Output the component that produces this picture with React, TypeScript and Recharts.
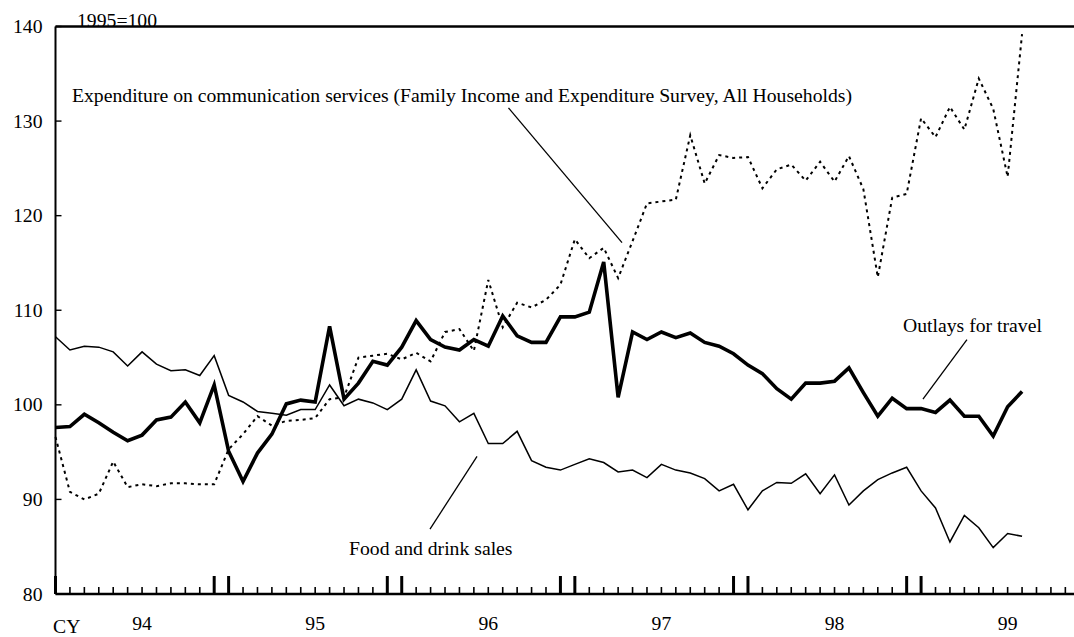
import React from 'react'
import { LineChart, Line, XAxis, YAxis, ReferenceLine } from 'recharts'

// monthly, index 0 = first month of CY94, 1995=100
const travel = [
  97.6, 97.7, 99.0, 98.1, 97.1, 96.2, 96.8, 98.4, 98.7, 100.3,
  98.1, 102.1, 95.1, 91.9, 94.9, 96.9, 100.1, 100.5, 100.3, 108.3,
  100.6, 102.3, 104.6, 104.2, 106.1, 108.9, 106.9, 106.1, 105.8, 106.9,
  106.2, 109.4, 107.3, 106.6, 106.6, 109.3, 109.3, 109.8, 115.1, 100.8,
  107.7, 106.9, 107.7, 107.1, 107.6, 106.6, 106.2, 105.4, 104.2, 103.3,
  101.7, 100.6, 102.3, 102.3, 102.5, 103.9, 101.3, 98.8, 100.7, 99.6,
  99.6, 99.2, 100.5, 98.8, 98.8, 96.7, 99.8, 101.4
]

const food = [
  107.2, 105.8, 106.2, 106.1, 105.6, 104.1, 105.6, 104.3, 103.6, 103.7,
  103.1, 105.2, 101.0, 100.3, 99.3, 99.1, 98.9, 99.5, 99.5, 102.1,
  99.9, 100.6, 100.2, 99.5, 100.6, 103.7, 100.4, 99.9, 98.2, 99.1,
  95.9, 95.9, 97.2, 94.1, 93.4, 93.1, 93.7, 94.3, 93.9, 92.9,
  93.1, 92.3, 93.7, 93.1, 92.8, 92.2, 90.9, 91.6, 88.9, 90.9,
  91.8, 91.7, 92.7, 90.6, 92.6, 89.4, 90.9, 92.1, 92.8, 93.4,
  90.9, 89.1, 85.5, 88.3, 87.0, 84.9, 86.4, 86.1
]

const comm = [
  96.6, 90.8, 90.0, 90.6, 94.0, 91.3, 91.6, 91.4, 91.7, 91.7,
  91.6, 91.6, 95.3, 96.9, 98.8, 97.8, 98.3, 98.4, 98.6, 100.6,
  100.8, 105.0, 105.2, 105.4, 104.8, 105.5, 104.6, 107.7, 108.0, 105.7,
  113.2, 108.2, 110.8, 110.3, 111.1, 112.7, 117.5, 115.5, 116.6, 113.4,
  117.3, 121.3, 121.5, 121.7, 128.5, 123.4, 126.4, 126.1, 126.2, 122.9,
  124.9, 125.4, 123.7, 125.7, 123.6, 126.3, 122.8, 113.5, 121.9, 122.3,
  130.3, 128.3, 131.5, 129.1, 134.5, 131.3, 124.1, 139.2
]

const yearLabels = ['94', '95', '96', '97', '98', '99']
const yTicks = [80, 90, 100, 110, 120, 130, 140]
const thickTicks = [0, 11, 12, 23, 24, 35, 36, 47, 48, 59, 60]
const monthTicks = Array.from({ length: 71 }, (_, i) => i)

const data = travel.map((v, i) => ({ i, travel: v, food: food[i], comm: comm[i] }))

const FONT = '"Liberation Serif", "Times New Roman", serif'
const FS = 19.7

function XTick(props: any) {
  const { x, y, payload } = props
  const i = payload.value
  const thick = thickTicks.includes(i)
  const lab = i % 12 === 6 ? yearLabels[(i - 6) / 12] : null
  return (
    <g>
      <line x1={x} x2={x} y1={y} y2={y - (thick ? 18 : 7)} stroke="#000" strokeWidth={thick ? 3 : 1.6} />
      {lab && (
        <text x={x} y={y + 36} textAnchor="middle" fontFamily={FONT} fontSize={FS} fill="#000">{lab}</text>
      )}
      {i === 0 && (
        <text x={x - 2.5} y={y + 39} textAnchor="start" fontFamily={FONT} fontSize={FS} fill="#000">CY</text>
      )}
    </g>
  )
}

function YTick(props: any) {
  const { x, y, payload } = props
  return (
    <g>
      <line x1={x + 13} x2={x + 19} y1={y} y2={y} stroke="#000" strokeWidth={1.4} />
      <text x={x} y={y + 6.5} textAnchor="end" fontFamily={FONT} fontSize={FS} fill="#000">{payload.value}</text>
    </g>
  )
}

export default function App() {
  return (
    <div style={{ position: 'absolute', left: 0, top: 0, width: 1074, height: 637, background: '#fff' }}>
      <LineChart width={1074} height={637} data={data} margin={{ top: 26.5, right: 0, bottom: 0, left: 0 }}>
        <XAxis
          dataKey="i"
          type="number"
          domain={[0, 70.6]}
          ticks={monthTicks}
          interval={0}
          height={43}
          tickSize={0}
          tickMargin={0}
          tick={<XTick />}
          axisLine={{ stroke: '#000', strokeWidth: 2.5 }}
          tickLine={false}
        />
        <YAxis
          domain={[80, 140]}
          ticks={yTicks}
          width={55.5}
          tickSize={0}
          tickMargin={13}
          tick={<YTick />}
          axisLine={{ stroke: '#000', strokeWidth: 2 }}
          tickLine={false}
        />
        <ReferenceLine y={140} stroke="#000" strokeWidth={2.5} />
        <ReferenceLine segment={[{ x: 31.4, y: 131.4 }, { x: 39.27, y: 117.15 }]} stroke="#000" strokeWidth={1.3} ifOverflow="visible" />
        <ReferenceLine segment={[{ x: 63.18, y: 106.9 }, { x: 60.13, y: 100.6 }]} stroke="#000" strokeWidth={1.3} ifOverflow="visible" />
        <ReferenceLine segment={[{ x: 25.96, y: 86.86 }, { x: 29.22, y: 94.56 }]} stroke="#000" strokeWidth={1.3} ifOverflow="visible" />
        <Line type="linear" dataKey="food" stroke="#000" strokeWidth={1.5} dot={false} isAnimationActive={false} />
        <Line type="linear" dataKey="comm" stroke="#000" strokeWidth={2} strokeDasharray="3 4" dot={false} isAnimationActive={false} />
        <Line type="linear" dataKey="travel" stroke="#000" strokeWidth={3.6} dot={false} isAnimationActive={false} />
      </LineChart>
      <svg width={1074} height={637} style={{ position: 'absolute', left: 0, top: 0, pointerEvents: 'none' }}>
        <g fontFamily={FONT} fontSize={FS} fill="#000">
          <text x={77} y={27}>1995=100</text>
          <text x={72} y={101.5}>Expenditure on communication services (Family Income and Expenditure Survey, All Households)</text>
          <text x={903} y={331.5}>Outlays for travel</text>
          <text x={349} y={555}>Food and drink sales</text>
        </g>
      </svg>
    </div>
  )
}
